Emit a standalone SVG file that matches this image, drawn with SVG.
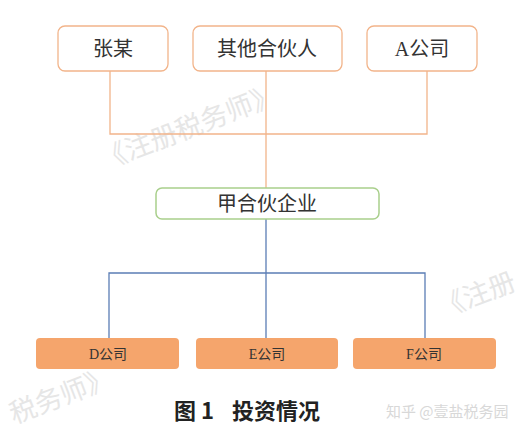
<svg xmlns="http://www.w3.org/2000/svg" width="526" height="436" viewBox="0 0 526 436">
<style>
.top{fill:#fff;stroke:#F2B48A;stroke-width:1.3}
.mid{fill:#fff;stroke:#A9CF8C;stroke-width:1.5}
.bot{fill:#F5A56C}
.t{font-family:"Liberation Serif","Noto Sans CJK SC",serif;fill:#333;text-anchor:middle}
.wm{font-family:"Noto Sans CJK SC",sans-serif;fill:#e6e6e6;font-size:27px}
.cap{font-family:"Noto Sans CJK SC",sans-serif;font-weight:bold;font-size:22px;fill:#222}
</style>
<rect width="526" height="436" fill="#fff"/>
<g id="watermarks">
<text class="wm" transform="translate(104,170) rotate(-21)">《注册税务师》</text>
<text class="wm" transform="translate(442,318) rotate(-21)">《注册</text>
<text class="wm" transform="translate(14,424) rotate(-21)">税务师》</text>
<text x="386" y="417" font-family="'Noto Sans CJK SC',sans-serif" font-size="15" fill="#d8d8d8">知乎 @壹盐税务园</text>
</g>
<g id="connectors" fill="none" stroke-width="1.3">
<path d="M110 71V134H427V71M266 71V188" stroke="#F2B48A"/>
<path d="M266 219V273M109 338V273H425V338M266 273V338" stroke="#5B7DB5"/>
</g>
<g id="n1"><rect class="top" x="58" y="26" width="110" height="45" rx="7"/><text class="t" x="113" y="56" font-size="20">张某</text></g>
<g id="n2"><rect class="top" x="193" y="26" width="149" height="45" rx="7"/><text class="t" x="267" y="56" font-size="20">其他合伙人</text></g>
<g id="n3"><rect class="top" x="367" y="26" width="110" height="45" rx="7"/><text class="t" x="422" y="56" font-size="20">A公司</text></g>
<g id="n4"><rect class="mid" x="156" y="188" width="223" height="31" rx="6"/><text class="t" x="267" y="211" font-size="20">甲合伙企业</text></g>
<g id="n5"><rect class="bot" x="36" y="338" width="143" height="31" rx="4"/><text class="t" x="108" y="359" font-size="14">D公司</text></g>
<g id="n6"><rect class="bot" x="196" y="338" width="142" height="31" rx="4"/><text class="t" x="267" y="359" font-size="14">E公司</text></g>
<g id="n7"><rect class="bot" x="353" y="338" width="143" height="31" rx="4"/><text class="t" x="424" y="359" font-size="14">F公司</text></g>
<g id="caption"><text class="cap" x="174" y="419">图 1</text><text class="cap" x="232" y="419">投资情况</text></g>
</svg>
